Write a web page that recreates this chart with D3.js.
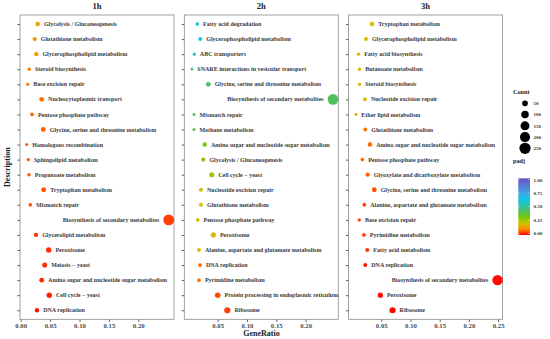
<!DOCTYPE html>
<html>
<head>
<meta charset="utf-8">
<script src="https://cdn.jsdelivr.net/npm/d3@7"></script>
<style>
  body { margin: 0; background: #fff; }
  svg text { font-family: "Liberation Serif", "Times New Roman", serif; font-weight: bold; }
</style>
</head>
<body>
<div id="chart"></div>
<script>
// ---- data ----
const panels = ["1h", "2h", "3h"];

const terms1h = ["Glycolysis / Gluconeogenesis", "Glutathione metabolism", "Glycerophospholipid metabolism",
  "Steroid biosynthesis", "Base excision repair", "Nucleocytoplasmic transport", "Pentose phosphate pathway",
  "Glycine, serine and threonine metabolism", "Homologous recombination", "Sphingolipid metabolism",
  "Propanoate metabolism", "Tryptophan metabolism", "Mismatch repair", "Biosynthesis of secondary metabolites",
  "Glycerolipid metabolism", "Peroxisome", "Meiosis \u2212 yeast", "Amino sugar and nucleotide sugar metabolism",
  "Cell cycle \u2212 yeast", "DNA replication"];
const ratio1h = [0.0289, 0.0238, 0.0265, 0.0146, 0.0119, 0.0357, 0.0192, 0.0384, 0.0102, 0.0129,
  0.0141, 0.0391, 0.0163, 0.2517, 0.0260, 0.0476, 0.0408, 0.0357, 0.0486, 0.0277];
const count1h = [27, 22, 24, 13, 11, 33, 18, 35, 9, 12, 13, 36, 15, 232, 24, 44, 38, 33, 45, 25];
const padj1h = [0.135, 0.125, 0.115, 0.092, 0.09, 0.08, 0.078, 0.07, 0.068, 0.066,
  0.063, 0.058, 0.056, 0.046, 0.036, 0.034, 0.032, 0.028, 0.022, 0.012];

const terms2h = ["Fatty acid degradation", "Glycerophospholipid metabolism", "ABC transporters",
  "SNARE interactions in vesicular transport", "Glycine, serine and threonine metabolism",
  "Biosynthesis of secondary metabolites", "Mismatch repair", "Methane metabolism",
  "Amino sugar and nucleotide sugar metabolism", "Glycolysis / Gluconeogenesis", "Cell cycle \u2212 yeast",
  "Nucleotide excision repair", "Glutathione metabolism", "Pentose phosphate pathway", "Peroxisome",
  "Alanine, aspartate and glutamate metabolism", "DNA replication", "Pyrimidine metabolism",
  "Protein processing in endoplasmic reticulum", "Ribosome"];
const ratio2h = [0.0152, 0.0203, 0.0101, 0.0061, 0.0340, 0.2468, 0.0096, 0.0096, 0.0278, 0.0254,
  0.0398, 0.0215, 0.0215, 0.0159, 0.0425, 0.0181, 0.0198, 0.0181, 0.0500, 0.0664];
const count2h = [14, 19, 9, 6, 32, 230, 9, 9, 26, 24, 37, 20, 20, 15, 40, 17, 18, 17, 47, 62];
const padj2h = [0.63, 0.62, 0.55, 0.48, 0.43, 0.415, 0.41, 0.40, 0.32, 0.27,
  0.26, 0.21, 0.205, 0.195, 0.19, 0.185, 0.076, 0.08, 0.053, 0.046];

const terms3h = ["Tryptophan metabolism", "Glycerophospholipid metabolism", "Fatty acid biosynthesis",
  "Butanoate metabolism", "Steroid biosynthesis", "Nucleotide excision repair", "Ether lipid metabolism",
  "Glutathione metabolism", "Amino sugar and nucleotide sugar metabolism", "Pentose phosphate pathway",
  "Glyoxylate and dicarboxylate metabolism", "Glycine, serine and threonine metabolism",
  "Alanine, aspartate and glutamate metabolism", "Base excision repair", "Pyrimidine metabolism",
  "Fatty acid metabolism", "DNA replication", "Biosynthesis of secondary metabolites", "Peroxisome", "Ribosome"];
const ratio3h = [0.0340, 0.0237, 0.0111, 0.0128, 0.0128, 0.0220, 0.0066, 0.0226, 0.0305, 0.0175,
  0.0265, 0.0380, 0.0209, 0.0123, 0.0202, 0.0260, 0.0226, 0.2491, 0.0483, 0.0693];
const count3h = [29, 20, 10, 11, 11, 19, 6, 19, 26, 15, 23, 33, 18, 11, 17, 22, 19, 214, 42, 60];
const padj3h = [0.195, 0.19, 0.19, 0.188, 0.185, 0.18, 0.13, 0.086, 0.075, 0.074,
  0.07, 0.058, 0.052, 0.048, 0.046, 0.042, 0.015, 0.01, 0.008, 0.005];

const xDomains = [[-0.0012, 0.2607], [-0.007, 0.2558], [-0.006, 0.2577]];
const xTicks = [[0, 0.05, 0.10, 0.15, 0.20], [0.05, 0.10, 0.15, 0.20], [0.05, 0.10, 0.15, 0.20, 0.25]];
const countBreaks = [50, 100, 150, 200, 250];
const padjBreaks = [0, 0.25, 0.5, 0.75, 1];
const padjStops = [0, 0.1, 0.2, 0.3, 0.42, 0.52, 0.62, 0.75, 1];
const padjColors = ["#ff0000", "#ff8c00", "#d4c000", "#7cc800", "#50c060", "#30c0a8", "#10c8e0", "#40a0e8", "#6a50c0"];

const series = [
  { terms: terms1h, ratio: ratio1h, count: count1h, padj: padj1h },
  { terms: terms2h, ratio: ratio2h, count: count2h, padj: padj2h },
  { terms: terms3h, ratio: ratio3h, count: count3h, padj: padj3h }
];

// ---- layout ----
const W = 550, H = 339;
const panelLeft = [20, 184.3, 348.6];
const panelW = 154;
const panelTop = 15, panelBottom = 319.3;

const svg = d3.select("#chart").append("svg")
  .attr("width", W).attr("height", H);

const color = d3.scaleLinear().domain(padjStops).range(padjColors).clamp(true);
const size = d3.scaleSqrt().domain([0, 250]).range([0.6, 5.6]);

series.forEach(function(s, i) {
  const x = d3.scaleLinear().domain(xDomains[i]).range([panelLeft[i], panelLeft[i] + panelW]);
  const y = d3.scalePoint().domain(d3.range(s.terms.length))
    .range([panelTop, panelBottom]).padding(0.6);

  const g = svg.append("g").attr("class", "panel-" + panels[i]);

  g.append("text")
    .attr("x", panelLeft[i] + panelW / 2).attr("y", 9)
    .attr("text-anchor", "middle").attr("font-size", 8.5).attr("fill", "#1a1a1a")
    .text(panels[i]);

  const xa = g.append("g")
    .attr("transform", "translate(0," + panelBottom + ")")
    .call(d3.axisBottom(x).tickValues(xTicks[i]).tickSize(2.5).tickPadding(1.5).tickFormat(d3.format(".2f")));
  xa.select(".domain").remove();
  xa.selectAll("line").attr("stroke", "#555");
  xa.selectAll("text").attr("font-size", 6.8).attr("fill", "#4d4d4d").attr("font-family", null);

  const ya = g.append("g")
    .attr("transform", "translate(" + panelLeft[i] + ",0)")
    .call(d3.axisLeft(y).tickSize(2.5).tickFormat(""));
  ya.select(".domain").remove();
  ya.selectAll("line").attr("stroke", "#555");

  g.append("rect")
    .attr("x", panelLeft[i]).attr("y", panelTop)
    .attr("width", panelW).attr("height", panelBottom - panelTop)
    .attr("fill", "none").attr("stroke", "#8c8c8c").attr("stroke-width", 0.8);

  const rows = s.terms.map(function(t, k) {
    return { term: t, ratio: s.ratio[k], count: s.count[k], padj: s.padj[k], k: k };
  });

  g.selectAll("circle.dot").data(rows).enter().append("circle")
    .attr("class", "dot")
    .attr("cx", d => x(d.ratio)).attr("cy", d => y(d.k))
    .attr("r", d => size(d.count))
    .attr("fill", d => color(d.padj));

  g.selectAll("text.lab").data(rows).enter().append("text")
    .attr("class", "lab")
    .attr("x", d => d.ratio > 0.2 ? x(d.ratio) - size(d.count) - 4 : x(d.ratio) + size(d.count) + 4)
    .attr("y", d => y(d.k)).attr("dy", "0.35em")
    .attr("text-anchor", d => d.ratio > 0.2 ? "end" : "start")
    .attr("font-size", 6).attr("fill", "#3a3a3a")
    .text(d => d.term);
});

// axis titles
svg.append("text").attr("x", 261.5).attr("y", 335.5)
  .attr("text-anchor", "middle").attr("font-size", 8).attr("fill", "#1a1a1a").text("GeneRatio");
svg.append("text").attr("transform", "translate(10," + ((panelTop + panelBottom) / 2) + ") rotate(-90)")
  .attr("text-anchor", "middle").attr("font-size", 8).attr("fill", "#1a1a1a").text("Description");

// size legend
const lg = svg.append("g");
lg.append("text").attr("x", 513).attr("y", 93.5).attr("font-size", 6.2).attr("fill", "#1a1a1a").text("Count");
const legY = d3.scalePoint().domain(countBreaks).range([103.3, 148.3]);
lg.selectAll("circle").data(countBreaks).enter().append("circle")
  .attr("cx", 525).attr("cy", d => legY(d)).attr("r", d => size(d)).attr("fill", "#000");
lg.selectAll("text.cl").data(countBreaks).enter().append("text")
  .attr("class", "cl").attr("x", 533.5).attr("y", d => legY(d)).attr("dy", "0.35em")
  .attr("font-size", 5).attr("fill", "#333").text(d => d);

// colour legend
lg.append("text").attr("x", 513).attr("y", 163).attr("font-size", 6.2).attr("fill", "#1a1a1a").text("padj");
const grad = svg.append("defs").append("linearGradient")
  .attr("id", "padjGrad").attr("x1", 0).attr("y1", 1).attr("x2", 0).attr("y2", 0);
grad.selectAll("stop").data(padjStops).enter().append("stop")
  .attr("offset", d => d).attr("stop-color", d => color(d));
const barTop = 178.3, barBottom = 235;
lg.append("rect").attr("x", 518.3).attr("y", barTop).attr("width", 11.7)
  .attr("height", barBottom - barTop).attr("fill", "url(#padjGrad)");
const cy = d3.scaleLinear().domain([0, 1]).range([barBottom - 1.5, barTop + 1.5]);
lg.selectAll("text.pl").data(padjBreaks).enter().append("text")
  .attr("class", "pl").attr("x", 533.5).attr("y", d => cy(d)).attr("dy", "0.35em")
  .attr("font-size", 5).attr("fill", "#333").text(d => d3.format(".2f")(d));
lg.selectAll("line.pt").data(padjBreaks).enter().append("line")
  .attr("class", "pt").attr("x1", 518.3).attr("x2", 520.3).attr("y1", d => cy(d)).attr("y2", d => cy(d))
  .attr("stroke", "#fff").attr("stroke-width", 0.4);
lg.selectAll("line.pt2").data(padjBreaks).enter().append("line")
  .attr("class", "pt2").attr("x1", 528).attr("x2", 530).attr("y1", d => cy(d)).attr("y2", d => cy(d))
  .attr("stroke", "#fff").attr("stroke-width", 0.4);
</script>
</body>
</html>
